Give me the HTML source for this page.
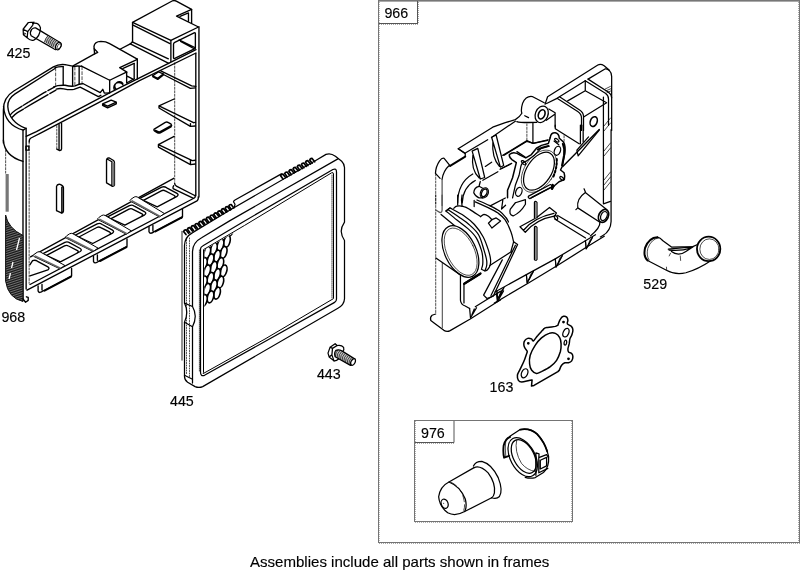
<!DOCTYPE html>
<html><head><meta charset="utf-8"><title>Parts diagram</title>
<style>
html,body{margin:0;padding:0;background:#fff;}
body{width:800px;height:573px;overflow:hidden;position:relative;font-family:"Liberation Sans",sans-serif;}
svg{position:absolute;left:0;top:0;display:block;}
.l{fill:none;stroke:#000;stroke-width:1.25;stroke-linejoin:round;stroke-linecap:round;}
.t{fill:none;stroke:#000;stroke-width:0.7;stroke-linejoin:round;stroke-linecap:round;}
.k{fill:none;stroke:#000;stroke-width:1.4;stroke-linejoin:round;stroke-linecap:round;}
.w{fill:#fff;stroke:#000;stroke-width:1;stroke-linejoin:round;stroke-linecap:round;}
.f{fill:none;stroke:#777;stroke-width:1;shape-rendering:crispEdges;}
path,line,ellipse,circle,polyline,polygon,rect{vector-effect:non-scaling-stroke;}
svg{filter:grayscale(1);}
.heavy .l{stroke-width:1.35;}
text{font-family:"Liberation Sans",sans-serif;font-size:15px;fill:#000;stroke:#000;stroke-width:0.15px;}
</style></head><body>
<svg width="800" height="573" viewBox="0 0 800 573">
<g id="frames">
<g shape-rendering="crispEdges" fill="none" stroke="#747474" stroke-width="1">
<path d="M378,0.5 H800" stroke="#777"/>
<path d="M378,1.5 H800" stroke="#aaa"/>
<path d="M378.5,1 V543 M799.5,1 V543 M378,542.5 H800"/>
<path d="M798.5,2 V542 M379,543.5 H800" stroke="#a8a8a8" stroke-dasharray="1 1"/>
<path d="M379.5,2 V542" stroke="#bbb" stroke-dasharray="1 1"/>
<path d="M417.5,1 V23.5 M379,23.5 H418" stroke="#555"/>
<path d="M379,24.5 H418 M418.5,2 V23" stroke="#aaa" stroke-dasharray="1 1"/>
<path d="M414.5,420 V522 M572.5,420 V522 M414,420.5 H573 M414,521.5 H573"/>
<path d="M415,522.5 H573 M571.5,421 V521 M415.5,421 V521" stroke="#b0b0b0" stroke-dasharray="1 1"/>
<path d="M454,421 V442.5 M415,442.5 H454" stroke="#555" shape-rendering="auto"/>
<path d="M415,443.5 H454" stroke="#aaa" stroke-dasharray="1 1"/>
</g>
</g>
<g id="p968" class="heavy">
<g class="l" transform="translate(120,0) scale(0.12563)">
<!-- tile A: top boss -->
<path d="M100,178 L415,8 Q432,0 448,9 L570,75 L450,128 L625,215 L405,322 Z"/>
<path d="M100,198 L398,347"/>
<path d="M570,75 V185 M545,103 V170 M478,131 L545,103"/>
<path d="M100,178 V334 L82,349 L388,505"/>
<path d="M97,333 L385,468"/>
<path d="M405,322 V490"/>
<path d="M426,352 Q426,342 436,337 L590,262 Q600,258 600,268 V385 L436,465 Q426,469 426,459 Z"/>
<path d="M470,318 L600,380 M482,330 L590,388"/>
<path d="M82,349 L0,392"/>
</g>
<g class="l" transform="translate(50,30) scale(0.12563)">
<!-- tile B: left boss -->
<path d="M120,276 L180,288 L355,190 L350,130 Q355,92 405,90 Q445,90 475,108 L695,232"/>
<path d="M352,150 L380,178 L355,190"/>
<path d="M250,287 L475,400 L600,340 M555,300 L695,233 M555,300 L612,335 M582,306 L670,266"/>
<path d="M475,400 V500 M695,232 V390 M670,266 V382 M610,335 V422 M610,365 L668,395 M610,422 L672,386"/>
<path d="M512,475 A36,36 0 1 1 583,440 M525,470 A30,30 0 0 1 580,425"/>
<path d="M105,292 V440 M180,292 V445 M232,290 V432"/>
<path class="t" d="M45,302 V440 M198,295 V440 M255,292 V425" stroke-dasharray="3 2"/>
<path d="M40,300 Q70,290 105,292 M180,292 Q215,282 255,290"/>
<path d="M30,452 Q60,438 120,440 Q170,452 200,445 Q240,425 265,428 L400,498 L420,472 L432,502 L475,500"/>
<path d="M50,470 Q75,462 110,468 Q160,480 190,472 L240,455 L385,530 L405,520"/>
</g>
<g class="l" transform="translate(0,60) scale(0.12563)">
<!-- tile C: left curve -->
<path d="M27,660 V400 Q24,300 110,247 L425,55 Q470,30 518,37"/>
<path d="M28,370 Q40,520 185,558 L205,545"/>
<path d="M438,68 L120,270 Q60,310 62,370 Q70,490 205,545"/>
<path d="M84,435 Q100,415 125,398 L348,262 L436,214 M97,456 Q115,435 139,419 L279,335 L445,240" stroke-dasharray="14 1.5 6 1 20 2"/>
</g>
<g class="l">
<!-- long lines (real coords) -->
<path d="M26.1,136.3 L36.4,131.6 L110,92.7 L196,49.6 M29.2,142 Q29,139 31,138 L41.5,132.6 L110,96.6 L139,80.8 L196,53"/>
</g>
<g class="l" transform="translate(110,50) scale(0.12563)">
<!-- tile D -->
<path d="M708,-185 V1170 M683,28 V1160"/>
<path class="t" d="M515,102 V1050" stroke-dasharray="2 1.5"/>
<path d="M400,165 L650,285 L683,290 M425,195 L640,306 L680,302"/>
<path d="M510,390 L390,445 L665,578 M390,445 V462 L640,608"/>
<path d="M340,205 L385,175 L425,190 L380,225 Z M340,205 V212 L380,234 L425,198 V190"/>

</g>
<g class="l" transform="translate(0,120) scale(0.12563)">
<!-- tile E -->
<path d="M27,160 Q35,285 183,330"/>
<path d="M183,78 V1435 M208,66 V1345"/>
<path class="t" d="M232,175 V1300 M45,240 V430" stroke-dasharray="2 1.5"/>
<rect x="206" y="208" width="24" height="32"/>
<path d="M490,25 V230 Q488,245 472,243 L452,232 M470,35 V240"/>
<path class="t" d="M452,45 V232" stroke-dasharray="2 1.5"/>
<path d="M450,722 V528 Q455,508 478,512 Q505,522 505,540 V725 Q503,738 492,742 L450,722 M492,742 V535"/>
<path d="M57,430 V730" stroke="#777" stroke-width="3.2" stroke-linecap="butt"/>
</g>
<g class="l" transform="translate(100,110) scale(0.12563)">
<!-- tile F -->
<path d="M745,100 L760,99 M720,108 V130 L758,127"/>
<path d="M590,210 L465,275 L735,403 L760,400 M465,275 V295 L720,435 L758,430 M720,400 V435"/>
<path d="M432,152 L520,98 Q532,92 545,100 L566,113 Q576,124 565,135 L480,182 Q468,187 455,180 L436,169 Q424,160 432,152 Z M442,162 L472,176 L566,124"/>
<path d="M52,580 V398 Q58,376 78,384 L108,402 Q115,408 115,420 V598 Q112,608 100,608 L52,580 M60,392 L95,412 V606"/>
<path d="M105,420 V600" stroke="#777" stroke-width="2.4" stroke-linecap="butt"/>
</g>
<g class="l">
<path d="M102.6,103.9 L111.2,100.1 L116.3,102.2 L107.6,106.2 Z M102.6,103.9 V105.4 L107.6,107.9 L116.3,103.8 V102.2"/>
</g>
</g>
<g id="p968b" class="heavy">
<g class="l">
<!-- floor / rail (real coords) -->
<path d="M173.7,178.3 L30.5,256.9"/>
<path d="M174.6,183.1 Q174.6,185.3 176.4,186.2 L194.7,195.5 M173.7,185.7 Q172.6,187.3 173.1,188.6 L193.5,198.4"/>
<path d="M195.2,195.1 Q195.5,197.4 194.3,198.0 L30,284.5 M198.2,196.9 Q198.7,199.6 197.0,200.9 L27,290.2"/>
<path d="M139.4,198.7 L161.7,187.2 Q164.2,186.0 166.7,187.8 L177.0,193.4 Q179.2,194.8 177.0,196.4 L157.2,206.8 L141.2,199.4"/>
<path d="M143.4,200.3 L161.3,190.8 Q163.3,189.7 165.3,190.9 L174.3,195.5 Q175.9,196.5 174.3,197.5"/>
<path class="w" d="M134.5,196.9 Q136.0,196.2 137.3,197.0 L164.4,213.5 L159.5,216.9 L130.7,201.4 Q129.1,200.4 130.7,199.4 Z"/>
<path d="M132.1,200.1 L160.9,215.9 L159.5,216.9 L130.7,201.2 Z" fill="#666" stroke="none"/>
<path d="M107.1,217.1 L129.4,205.6 Q131.9,204.4 134.4,206.2 L144.7,211.8 Q146.9,213.2 144.7,214.8 L124.9,225.2 L108.9,217.8"/>
<path d="M111.1,218.7 L129.0,209.2 Q131.0,208.1 133.0,209.3 L142.0,213.9 Q143.6,214.9 142.0,215.9"/>
<path class="w" d="M102.2,215.3 Q103.7,214.6 105.0,215.4 L131.2,230.8 L126.3,234.2 L98.4,219.8 Q96.8,218.8 98.4,217.8 Z"/>
<path d="M99.8,218.5 L127.7,233.2 L126.3,234.2 L98.4,219.6 Z" fill="#666" stroke="none"/>
<path d="M74.9,235.4 L97.2,223.9 Q99.7,222.7 102.2,224.5 L112.5,230.1 Q114.7,231.5 112.5,233.1 L92.7,243.5 L76.7,236.1"/>
<path d="M78.9,237.0 L96.8,227.5 Q98.8,226.4 100.8,227.6 L109.8,232.2 Q111.4,233.2 109.8,234.2"/>
<path class="w" d="M70.0,233.6 Q71.5,232.9 72.8,233.7 L98.0,248.1 L93.1,251.5 L66.2,238.1 Q64.6,237.1 66.2,236.1 Z"/>
<path d="M67.6,236.8 L94.5,250.5 L93.1,251.5 L66.2,237.9 Z" fill="#666" stroke="none"/>
<path d="M42.6,253.8 L64.9,242.3 Q67.4,241.1 69.9,242.9 L80.2,248.5 Q82.4,249.9 80.2,251.5 L60.4,261.9 L44.4,254.5"/>
<path d="M46.6,255.4 L64.5,245.9 Q66.5,244.8 68.5,246.0 L77.5,250.6 Q79.1,251.6 77.5,252.6"/>
<path class="w" d="M37.7,252.0 Q39.2,251.3 40.5,252.1 L64.8,265.4 L59.9,268.8 L33.9,256.5 Q32.3,255.5 33.9,254.5 Z"/>
<path d="M35.3,255.2 L61.3,267.8 L59.9,268.8 L33.9,256.3 Z" fill="#666" stroke="none"/>
<path d="M30,264.7 L32.6,260.7 Q35.1,259.5 37.6,261.3 L47.9,266.9 Q50.1,268.3 47.9,269.9 L30,275.9"/>
<path d="M182.5,209.3 v7.4 l-28.3,14.9 q-4,3.2 -5.2,0.2 v-5 M152.9,225.3 v5.4"/>
<path style="stroke-width:1.8" class="k" d="M155.5,231.5 l26.5,-14"/>
<path d="M127.0,238.9 v7.4 l-28.3,14.9 q-4,3.2 -5.2,0.2 v-5 M97.4,254.9 v5.4"/>
<path style="stroke-width:1.8" class="k" d="M100.0,261.1 l26.5,-14"/>
<path d="M71.6,268.5 v7.4 l-28.3,14.9 q-4,3.2 -5.2,0.2 v-5 M42.0,284.5 v5.4"/>
<path style="stroke-width:1.8" class="k" d="M44.6,290.7 l26.5,-14"/>
</g>
<g>
<pattern id="ht" width="6" height="1.7" patternUnits="userSpaceOnUse" patternTransform="rotate(14)"><rect width="6" height="1.7" fill="#8a8a8a"/><rect width="6" height="1.05" fill="#111"/></pattern>
<path d="M5.6,215 Q8,228 23,235.5 V301.5 Q8,298 5.6,281 Z" fill="url(#ht)" stroke="#111" stroke-width="1"/>
<path d="M23,299 l2.6,3.2 l2.6,-1.8 v-3 l-1.8,-0.6" class="l"/>
<path d="M19.5,238 L16.5,250 M13,262 L11.5,268 M10.5,273 L9,279" stroke="#fff" stroke-width="1.3" fill="none"/>
</g>
</g>
<g id="p425">
<g class="l" transform="translate(15,15) scale(0.075)">
<path d="M108,190 L178,100 L252,96 M108,190 L112,262 L162,302 M108,190 L170,222 L235,138 L252,96 M170,222 L162,302"/>
<circle cx="128" cy="250" r="9" class="t"/>
<path d="M235,112 Q318,95 340,172 Q335,290 250,335 Q205,348 165,305"/>
<path d="M215,277 Q192,235 222,192 Q248,165 275,172 L600,368 M215,277 L540,462"/>
<path d="M432,276 L590,368 L538,458 L388,352 Z" fill="#bbb" stroke="none"/>
<path class="t" d="M436,280 q-32,28 -42,78"/>
<path class="t" d="M458,293 q-32,28 -42,78"/>
<path class="t" d="M481,307 q-32,28 -42,78"/>
<path class="t" d="M503,320 q-32,28 -42,78"/>
<path class="t" d="M525,334 q-32,28 -42,78"/>
<path class="t" d="M547,347 q-32,28 -42,78"/>
<ellipse cx="578" cy="414" rx="33" ry="52" transform="rotate(28 578 414)" fill="#fff"/>
<ellipse cx="590" cy="418" rx="22" ry="38" transform="rotate(28 590 418)" class="t"/>
</g>
</g>
<g id="p445">
<g class="l">
<path d="M184.5,376.5 V322.3 Q189,312.5 184.5,303.1 V245.3 Q184.8,237 192.6,232.6 L230,210 L315.3,160.7 L326,154.4 Q330.6,152.6 335.4,156.3 L341.7,161.3 Q344.4,164 344.5,167.6 V222.1 Q341.2,227 341.2,231.3 Q341.4,236 344.5,240.5 V298.8 Q344.2,305 337.9,308.2 L202.7,386.6 Q199,388.2 195.1,386.6 L187.6,382.2 Q184.5,380 184.5,376.5 Z" fill="#fff"/>
<path d="M192.5,383 V326.7 Q198,316 192.5,306.5 V251.5 Q192.6,242.5 202,237.5 L230,220.6 L337.9,158.9"/>
<path d="M184.5,303.1 L192.5,306.5 M184.5,322.3 L192.5,326.7"/>
<path d="M184.5,375.3 L192.5,379.2"/>
<path d="M200.5,372 V249 Q200.5,247 203,245.8 L241.25,223 L332.9,169.5 Q336.5,167.8 336.5,172 V299 Q336.5,301.3 334.6,302.4 L265,341.5 L204.5,375.3 Q200.5,377 200.5,372 Z"/>
<path stroke-width="1" d="M203.5,372 V249.6 L244.6,225.4 L331.6,172.8 Q333.5,172 333.5,174 V298.6 L265,339 L203.5,373.4 Z"/>
<path class="t" d="M199.4,250 V372 M332,175 V298" stroke-dasharray="1 1"/>
<path d="M182,231.6 V360" stroke="#777" stroke-width="1.6"/>
<path d="M186.5,240 V375 M189.5,238 V377" class="t" stroke="#555" stroke-dasharray="1 1.5"/>
<path d="M234.4,206.8 L235,204.3 L233.5,201.8 Q233.6,200.8 235,200 L281.4,173.9"/>
<path d="M186.0,234.6 l-2.4,-3.2 q0.6,-1.8 2.4,-1.6 l2.6,3.4" stroke-width="1.7"/>
<path d="M189.8,232.5 l-2.4,-3.2 q0.6,-1.8 2.4,-1.6 l2.6,3.4" stroke-width="1.7"/>
<path d="M193.5,230.4 l-2.4,-3.2 q0.6,-1.8 2.4,-1.6 l2.6,3.4" stroke-width="1.7"/>
<path d="M197.3,228.3 l-2.4,-3.2 q0.6,-1.8 2.4,-1.6 l2.6,3.4" stroke-width="1.7"/>
<path d="M201.1,226.2 l-2.4,-3.2 q0.6,-1.8 2.4,-1.6 l2.6,3.4" stroke-width="1.7"/>
<path d="M204.8,224.1 l-2.4,-3.2 q0.6,-1.8 2.4,-1.6 l2.6,3.4" stroke-width="1.7"/>
<path d="M208.6,222.0 l-2.4,-3.2 q0.6,-1.8 2.4,-1.6 l2.6,3.4" stroke-width="1.7"/>
<path d="M212.4,219.8 l-2.4,-3.2 q0.6,-1.8 2.4,-1.6 l2.6,3.4" stroke-width="1.7"/>
<path d="M216.2,217.7 l-2.4,-3.2 q0.6,-1.8 2.4,-1.6 l2.6,3.4" stroke-width="1.7"/>
<path d="M219.9,215.6 l-2.4,-3.2 q0.6,-1.8 2.4,-1.6 l2.6,3.4" stroke-width="1.7"/>
<path d="M223.7,213.5 l-2.4,-3.2 q0.6,-1.8 2.4,-1.6 l2.6,3.4" stroke-width="1.7"/>
<path d="M227.5,211.4 l-2.4,-3.2 q0.6,-1.8 2.4,-1.6 l2.6,3.4" stroke-width="1.7"/>
<path d="M231.2,209.3 l-2.4,-3.2 q0.6,-1.8 2.4,-1.6 l2.6,3.4" stroke-width="1.7"/>
<path d="M283.0,179.0 l-2.4,-3.2 q0.6,-1.8 2.4,-1.6 l2.6,3.4" stroke-width="1.7"/>
<path d="M287.1,176.8 l-2.4,-3.2 q0.6,-1.8 2.4,-1.6 l2.6,3.4" stroke-width="1.7"/>
<path d="M291.3,174.5 l-2.4,-3.2 q0.6,-1.8 2.4,-1.6 l2.6,3.4" stroke-width="1.7"/>
<path d="M295.4,172.2 l-2.4,-3.2 q0.6,-1.8 2.4,-1.6 l2.6,3.4" stroke-width="1.7"/>
<path d="M299.6,170.0 l-2.4,-3.2 q0.6,-1.8 2.4,-1.6 l2.6,3.4" stroke-width="1.7"/>
<path d="M303.8,167.8 l-2.4,-3.2 q0.6,-1.8 2.4,-1.6 l2.6,3.4" stroke-width="1.7"/>
<path d="M307.9,165.5 l-2.4,-3.2 q0.6,-1.8 2.4,-1.6 l2.6,3.4" stroke-width="1.7"/>
<path d="M312.1,163.2 l-2.4,-3.2 q0.6,-1.8 2.4,-1.6 l2.6,3.4" stroke-width="1.7"/>
</g>
<clipPath id="hc"><path d="M204.4,250 L236,231.5 V310 H204.4 Z"/></clipPath>
<g clip-path="url(#hc)" fill="#fff" stroke="#000" stroke-width="1.6">
<ellipse cx="230.3" cy="230.3" rx="3.0" ry="6.1" transform="rotate(16 230.3 230.3)"/>
<ellipse cx="223.7" cy="234.0" rx="3.0" ry="6.1" transform="rotate(16 223.7 234.0)"/>
<ellipse cx="217.1" cy="237.7" rx="3.0" ry="6.1" transform="rotate(16 217.1 237.7)"/>
<ellipse cx="210.5" cy="241.4" rx="3.0" ry="6.1" transform="rotate(16 210.5 241.4)"/>
<ellipse cx="227.0" cy="241.4" rx="3.0" ry="6.1" transform="rotate(16 227.0 241.4)"/>
<ellipse cx="203.9" cy="245.1" rx="3.0" ry="6.1" transform="rotate(16 203.9 245.1)"/>
<ellipse cx="220.4" cy="245.1" rx="3.0" ry="6.1" transform="rotate(16 220.4 245.1)"/>
<ellipse cx="213.8" cy="248.8" rx="3.0" ry="6.1" transform="rotate(16 213.8 248.8)"/>
<ellipse cx="207.2" cy="252.5" rx="3.0" ry="6.1" transform="rotate(16 207.2 252.5)"/>
<ellipse cx="223.7" cy="252.5" rx="3.0" ry="6.1" transform="rotate(16 223.7 252.5)"/>
<ellipse cx="217.1" cy="256.2" rx="3.0" ry="6.1" transform="rotate(16 217.1 256.2)"/>
<ellipse cx="210.5" cy="259.9" rx="3.0" ry="6.1" transform="rotate(16 210.5 259.9)"/>
<ellipse cx="203.9" cy="263.6" rx="3.0" ry="6.1" transform="rotate(16 203.9 263.6)"/>
<ellipse cx="220.4" cy="263.6" rx="3.0" ry="6.1" transform="rotate(16 220.4 263.6)"/>
<ellipse cx="213.8" cy="267.3" rx="3.0" ry="6.1" transform="rotate(16 213.8 267.3)"/>
<ellipse cx="207.2" cy="271.0" rx="3.0" ry="6.1" transform="rotate(16 207.2 271.0)"/>
<ellipse cx="223.7" cy="271.0" rx="3.0" ry="6.1" transform="rotate(16 223.7 271.0)"/>
<ellipse cx="217.1" cy="274.7" rx="3.0" ry="6.1" transform="rotate(16 217.1 274.7)"/>
<ellipse cx="210.5" cy="278.4" rx="3.0" ry="6.1" transform="rotate(16 210.5 278.4)"/>
<ellipse cx="203.9" cy="282.1" rx="3.0" ry="6.1" transform="rotate(16 203.9 282.1)"/>
<ellipse cx="220.4" cy="282.1" rx="3.0" ry="6.1" transform="rotate(16 220.4 282.1)"/>
<ellipse cx="213.8" cy="285.8" rx="3.0" ry="6.1" transform="rotate(16 213.8 285.8)"/>
<ellipse cx="207.2" cy="289.5" rx="3.0" ry="6.1" transform="rotate(16 207.2 289.5)"/>
<ellipse cx="217.1" cy="293.2" rx="3.0" ry="6.1" transform="rotate(16 217.1 293.2)"/>
<ellipse cx="210.5" cy="296.9" rx="3.0" ry="6.1" transform="rotate(16 210.5 296.9)"/>
<ellipse cx="203.9" cy="300.6" rx="3.0" ry="6.1" transform="rotate(16 203.9 300.6)"/>
</g>
</g>
<g id="p443">
<g class="l" transform="translate(310,335) scale(0.075)">
<path d="M240,242 L268,162 L335,116 L362,140 M240,242 L255,292 L320,345 M268,162 L300,178 L362,140 M300,178 L292,265 L255,292 M292,265 L320,345"/>
<path d="M362,140 Q420,128 448,165 Q458,200 440,215 M320,345 Q350,350 380,320"/>
<path d="M345,205 Q318,235 335,290 L540,405 L600,322 L430,215 Q380,185 345,205 Z" fill="#c4c4c4"/>
<path class="t" d="M372,200 q-34,30 -34,88"/>
<path class="t" d="M394,213 q-34,30 -34,88"/>
<path class="t" d="M417,226 q-34,30 -34,88"/>
<path class="t" d="M439,239 q-34,30 -34,88"/>
<path class="t" d="M461,252 q-34,30 -34,88"/>
<path class="t" d="M484,265 q-34,30 -34,88"/>
<path class="t" d="M506,278 q-34,30 -34,88"/>
<path class="t" d="M529,291 q-34,30 -34,88"/>
<path class="t" d="M551,304 q-34,30 -34,88"/>
<ellipse cx="574" cy="360" rx="27" ry="47" transform="rotate(28 574 360)" fill="#fff"/>
</g>
</g>
<g id="p966">
<g class="l" transform="translate(530,55) scale(0.12563)">
<!-- P1 -->
<path d="M120,392 L140,332 L540,80 Q562,68 590,85 L630,120 Q650,140 650,172 V600"/>
<path d="M132,386 L215,345 L440,205 M462,192 L600,110 Q618,108 632,124"/>
<path d="M215,345 L380,450 Q410,470 410,502 V600 M235,333 L395,438 Q426,458 426,490 V600"/>
<path d="M440,205 V282 M300,365 L440,285 L610,380 L430,492"/>
<path d="M440,205 L600,305 Q625,322 625,350 V560 M462,192 L622,295 Q648,312 650,340"/>
<path d="M600,270 L640,250 M605,285 L645,268 M612,300 L645,285" class="t"/>
<ellipse cx="507" cy="530" rx="27" ry="40" transform="rotate(20 507 530)" stroke-width="1.6"/>
<ellipse cx="93" cy="472" rx="50" ry="68" transform="rotate(22 93 472)"/>
<ellipse cx="93" cy="472" rx="25" ry="38" transform="rotate(22 93 472)" stroke-width="1.6"/>
<path d="M150,430 L200,460 V573 M130,520 L200,470"/>
</g>
<g class="l" transform="translate(450,90) scale(0.12563)">
<!-- P2 -->
<path d="M750,102 L655,52 Q605,45 578,105 Q562,160 572,185 Q555,215 520,236 L440,260 L340,296 L65,468 L120,506"/>
<path class="k" d="M532,252 Q560,262 690,258"/>
<path d="M125,500 L300,396 M330,378 L520,248 M595,205 L625,220"/>
<path d="M660,262 V425 L780,396 M612,402 L660,425 M420,520 L610,405"/>
<path class="t" d="M612,270 V402" stroke-dasharray="2 1.5"/>
</g>
<g class="l" transform="translate(500,125) scale(0.12563)">
<!-- P3 carb flange -->
<path stroke-width="1.5" d="M400,100 Q405,60 440,62 Q470,70 472,105 L505,135 Q525,170 515,230 L495,330 L482,358 L510,380 Q520,410 512,435 L470,452 L435,482 L250,578"/>
<path stroke-width="1.5" d="M400,100 L385,148 L330,162 L290,185 L250,235 L205,262 L160,240 Q110,205 75,235 Q70,255 95,275 L130,300 Q120,340 100,420 L60,520 V580"/>
<path d="M392,168 L325,188 L275,240 L205,290 Q172,300 166,330 L152,400 L122,480 L100,580 M430,128 L468,158"/>
<path style="stroke-width:2" class="k" d="M500,150 Q518,190 510,240 L494,322"/>
<path style="stroke-width:1.8" class="k" d="M300,196 L335,180 L385,166"/>
<ellipse cx="310" cy="368" rx="98" ry="168" transform="rotate(33 310 368)"/>
<ellipse cx="310" cy="368" rx="116" ry="186" transform="rotate(33 310 368)" class="t"/>
<ellipse cx="457" cy="205" rx="24" ry="37" transform="rotate(20 457 205)"/>
<ellipse cx="150" cy="532" rx="24" ry="37" transform="rotate(20 150 532)"/>
<ellipse cx="452" cy="122" rx="10" ry="20" transform="rotate(-50 452 122)"/>
<ellipse cx="188" cy="300" rx="10" ry="22" transform="rotate(-45 188 300)"/>
<ellipse cx="492" cy="425" rx="10" ry="19" transform="rotate(-45 492 425)"/>
<path style="stroke-width:2" class="t" d="M452,270 Q455,340 425,410" stroke-dasharray="2 2"/>
<path style="stroke-width:2.2" class="k" d="M415,505 L428,485"/>
<path d="M30,242 L215,130 L265,146 L380,122 M135,212 L200,255 M0,352 L80,312"/>
<path d="M440,0 V30 L630,150 M640,0 V150 M662,0 V135"/>
<path class="t" d="M510,85 V135" stroke-dasharray="2 1.5"/>
<path class="k" d="M790,36 L500,330"/>
<path d="M790,40 L622,246 L612,200 L705,95"/>
</g>
<g class="l" transform="translate(420,130) scale(0.12563)">
<!-- P4 top-left -->
<path d="M360,210 V186 L305,150"/>
<path d="M360,212 L240,286" stroke="#000" stroke-width="2" fill="none"/>
<path d="M240,286 L192,226 Q176,220 156,245 Q125,290 123,345 L160,385 M232,282 Q185,325 176,392"/>
<path class="t" d="M125,350 V600" stroke-dasharray="2 1.5"/>
<path d="M176,392 V600" stroke="#555"/>
<path d="M415,168 L480,390 L515,378 L460,146 Z M421,200 Q405,320 470,380"/>
<path d="M570,58 L640,296 L666,282 L606,40 Z M580,92 Q570,220 632,290"/>
<path d="M520,290 L570,256 M642,310 L730,266 M500,400 L620,332"/>
<path d="M300,580 Q300,420 420,350 M336,580 Q342,455 440,402"/>
<ellipse cx="512" cy="500" rx="30" ry="42" transform="rotate(25 512 500)"/>
<ellipse cx="512" cy="500" rx="20" ry="32" transform="rotate(25 512 500)"/>
<path d="M496,462 L470,448 Q430,455 428,500 Q440,530 470,540 L498,540 M470,448 L480,410"/>
</g>
<g class="l" transform="translate(420,195) scale(0.12563)">
<!-- P5 misc -->
<path class="t" d="M125,0 V945" stroke-dasharray="2 1.5"/>
<path d="M176,0 V120 Q176,140 160,140 L125,120" stroke="#555"/>
<path d="M300,0 V80 M335,0 Q325,40 335,90"/>
</g>
<g class="l" transform="translate(420,260) scale(0.12563)">
<!-- P6 bottom-left -->
<path d="M125,430 L96,440 Q78,455 86,482 L112,502 L190,560 Q215,575 240,562 L400,470 L610,336 L640,318"/>
<path d="M178,20 V540" stroke="#666"/>
<path d="M322,125 V320 Q325,355 360,366 L395,386 M350,195 V342"/>
<path d="M352,190 L480,110" stroke-width="2.2"/>
<path d="M440,372 L520,322 L640,250"/>
<path d="M395,386 L402,462 L450,380 M412,440 L432,390 M610,272 L616,332 L665,246 M628,310 L648,262"/>
</g>
<g class="l" transform="translate(520,180) scale(0.12563)">
<!-- P7 right-middle -->
<path d="M725,-400 V330 Q722,405 660,442 L640,454"/>
<path d="M664,-660 V190 L720,170"/>
<path d="M520,100 L692,236 M460,222 L636,336 M520,100 Q448,150 460,222 M510,70 L522,100 M445,236 L460,222"/>
<ellipse cx="665" cy="286" rx="38" ry="54" transform="rotate(25 665 286)" stroke-width="1.7"/>
<ellipse cx="668" cy="287" rx="24" ry="38" transform="rotate(25 668 287)"/>
<path d="M0,372 L130,300 L235,218 L290,262 L272,294 M0,372 L42,416 Q130,312 280,286 M28,400 Q110,300 270,266"/>
<path d="M300,282 L552,432 M276,310 L522,462"/>
<ellipse cx="287" cy="299" rx="11" ry="18" transform="rotate(-30 287 299)"/>
<path d="M115,300 V178 Q120,162 135,178 V300 M115,632 V378 Q120,362 135,378 V632 Q125,648 115,632"/>
<path d="M125,180 V300 M125,380 V635" stroke="#888" stroke-width="1.4"/>

<path d="M68,128 Q60,140 78,148 L250,56 Q262,44 242,36 Z"/>
<path d="M260,40 L255,70" stroke-width="2.4"/>
<path d="M636,336 Q640,380 560,445"/>
</g>
<g class="l" transform="translate(500,230) scale(0.12563)">
<!-- P8 bottom edge -->
<path d="M-40,493 L210,355 L440,230 L680,85 L760,38 M-45,582 L230,420 L460,280 L700,130 L830,50"/>
<path d="M210,355 l6,66 l50,-92 M224,407 l22,-58 M234,395 l20,-52" class="t"/>
<path d="M210,355 l6,66 l50,-92"/>
<path d="M440,230 l6,66 l50,-92 M454,282 l22,-58 M464,270 l20,-52" class="t"/>
<path d="M440,230 l6,66 l50,-92"/>
<path d="M680,85 l6,66 l50,-92 M694,137 l22,-58 M704,125 l20,-52" class="t"/>
<path d="M680,85 l6,66 l50,-92"/>
<path d="M-25,485 l6,66 l50,-92 M-11,537 l22,-58 M-1,525 l20,-52" class="t"/>
<path d="M-25,485 l6,66 l50,-92"/>
</g>
<g class="l">
<path class="t" d="M604,151 L610.5,143 M604,156 L610.5,148 M604,180 L610.5,172 M604,185 L610.5,177 M604,190 L610.5,182 M604,126 L610.5,118 M604,131 L610.5,123"/>
</g>
<g class="l" transform="translate(440,150) scale(0.12563)">
<path d="M272,400 V450 M400,445 L520,382 M500,400 L490,470 L522,440"/>
<path d="M600,420 L680,395 V432 Q640,500 582,525 Q545,512 560,470 L600,420"/>
</g>
</g>
<g id="p966b">
<g class="l">
<path d="M453.8,208.3 C454.3,207.9 455.2,206.4 456.9,206.1 C458.6,205.8 461.7,206.0 463.9,206.6 C466.1,207.1 467.2,207.9 470.0,209.6 C472.8,211.3 478.8,215.5 480.5,216.6"/>
<path d="M475.2,201.9 C477.3,202.8 483.7,205.6 487.5,207.4 C491.3,209.3 495.1,211.1 498.0,213.1 C500.9,215.2 502.8,216.5 505.0,219.7 C507.2,222.8 509.6,228.3 511.0,232.0 C512.4,235.7 513.2,240.2 513.6,241.8"/>
<path d="M477.0,200.0 C479.0,200.9 485.5,203.6 489.2,205.4 C493.0,207.3 497.0,209.2 499.8,211.2 C502.5,213.2 504.4,215.7 505.9,217.5 C507.3,219.3 508.1,221.2 508.5,222.0"/>
<path d="M480.5,216.6 C481.1,216.3 482.7,214.5 484.0,214.4 C485.3,214.4 487.1,215.3 488.4,216.2 C489.7,217.1 491.3,219.1 491.9,219.7"/>
<path d="M491.9,219.7 L496.2,217.9 L500.6,221.0 L491.9,228.0 L488.4,223.2 L491.9,219.7"/>
<path d="M449.9,207.9 C452.2,209.2 459.8,212.9 463.9,215.7 C468.0,218.5 471.2,221.0 474.4,224.5 C477.6,228.0 480.8,232.4 483.1,236.7 C485.4,241.0 487.2,246.4 488.4,250.1 C489.6,253.8 490.2,256.4 490.5,259.0 C490.8,261.6 490.6,263.6 490.1,265.4 C489.6,267.2 488.4,268.8 487.5,269.7 C486.6,270.6 485.3,270.8 484.9,271.0 L481.4,269.3 L481.4,269.3 C481.6,268.5 482.5,266.5 482.7,264.5 C482.9,262.5 482.9,259.9 482.7,257.5 C482.5,255.1 482.5,253.4 481.4,250.1 C480.3,246.8 478.3,241.1 476.1,237.6 C473.9,234.1 471.4,231.8 468.2,228.9 C465.0,226.0 460.6,223.1 456.9,220.1 C453.2,217.1 447.7,212.4 445.9,210.9 Z" fill="#fff"/>
<path d="M447.7,209.6 C449.7,210.9 455.8,214.9 459.5,217.5 C463.2,220.1 466.8,222.5 470.0,225.4 C473.2,228.3 476.4,230.9 478.7,235.0 C481.0,239.1 482.7,245.9 484.0,250.1 C485.3,254.3 486.2,257.4 486.6,260.0 C487.0,262.6 486.9,264.2 486.6,266.0 C486.3,267.8 485.2,269.8 484.9,270.6"/>
<path d="M441.1,214.4 L454.7,225.8 M445.9,210.9 L449.9,207.9"/>
<ellipse cx="460.4" cy="251.5" rx="15.6" ry="27.6" transform="rotate(-25.7 460.4 251.5)" fill="#fff"/>
<ellipse cx="460.7" cy="251.7" rx="13.6" ry="25.4" transform="rotate(-25.7 460.7 251.7)" class="t"/>
<path d="M435.9,258 L460.4,275"/>
<path d="M464.2,283.6 L480.5,273.4" stroke-width="2.2"/>
<path d="M489.8,265.6 L510.8,252 L513.6,241.8 L517.6,244.6 L493.2,296.2 L487,298.5 L483.6,295.1 L502.3,259.9 M515.4,245.2 L491,295.5"/>
</g>
</g>
<g id="p529">
<g class="l" transform="translate(630,220) scale(0.12563)">
<ellipse cx="626" cy="230" rx="93" ry="97" stroke-width="1.8"/>
<ellipse cx="632" cy="232" rx="76" ry="82" class="t"/>
<path d="M218,137 Q150,140 120,222 Q104,292 140,322" stroke-width="2"/>
<path d="M230,142 Q170,150 142,225 Q128,285 152,318" class="t"/>
<path d="M218,137 Q240,140 262,165 L330,215 L500,212 L538,195"/>
<path d="M140,322 L290,400 Q360,440 445,420 Q545,390 640,326"/>
<path d="M305,232 L495,214 M312,240 Q400,250 490,222 M330,250 Q385,292 445,250 L500,214"/>
<path d="M322,265 L312,286 M400,286 L403,322 M290,375 L292,396" class="t"/>
</g>
</g>
<g id="p163">
<g class="l">
<path d="M557.9,325.1 C558.3,324.1 559.4,320.5 560.4,319.1 C561.3,317.6 562.5,316.6 563.5,316.3 C564.6,316.0 565.9,316.4 566.7,317.1 C567.4,317.7 567.8,319.2 567.9,320.3 C568.0,321.5 566.8,322.8 567.4,323.8 C568.0,324.8 570.5,325.3 571.4,326.4 C572.4,327.4 572.9,328.7 572.9,330.1 C573.0,331.6 572.2,333.7 571.7,335.2 C571.2,336.6 570.3,337.5 569.9,338.9 C569.5,340.4 569.5,342.3 569.2,343.9 C568.8,345.6 568.0,347.6 567.9,349.0 C567.8,350.3 568.0,351.4 568.7,352.1 C569.3,352.9 571.0,352.7 571.7,353.5 C572.4,354.3 572.9,355.5 572.9,356.8 C572.9,358.0 572.4,359.9 571.7,360.9 C571.0,361.9 569.7,362.5 568.5,362.8 C567.4,363.1 566.1,362.4 564.9,362.8 C563.7,363.2 562.6,364.1 561.6,365.3 C560.7,366.5 559.7,369.3 559.4,370.1 L557.9,371.6 L534.0,385.4 L531.5,386.0 L532.1,379.9 L532.1,379.9 C531.6,380.0 530.7,380.0 529.0,380.4 C527.2,380.8 523.4,382.1 521.7,382.1 C519.9,382.1 519.1,381.5 518.4,380.4 C517.7,379.2 517.2,377.1 517.4,375.4 C517.6,373.6 518.6,372.4 519.7,370.1 C520.8,367.7 522.8,364.0 523.9,361.3 C525.1,358.6 525.9,355.7 526.5,354.0 C527.0,352.3 527.5,352.3 527.2,351.2 C526.9,350.2 525.3,348.9 524.7,347.7 C524.1,346.5 523.8,345.1 523.8,343.9 C523.8,342.8 524.0,341.6 524.7,340.7 C525.3,339.8 526.6,338.7 527.7,338.4 C528.8,338.1 530.5,338.5 531.5,338.9 C532.4,339.3 532.4,341.5 533.5,340.9 C534.5,340.3 536.2,337.2 537.8,335.4 C539.3,333.6 541.7,331.3 542.8,330.1 C543.9,329.0 543.6,328.8 544.3,328.4 C545.0,327.9 545.6,327.8 546.8,327.6 C548.0,327.4 550.2,327.3 551.6,327.1 C553.0,326.9 554.3,326.7 555.4,326.4 C556.4,326.0 557.4,325.3 557.9,325.1" stroke-width="1.5"/>
<path d="M530.2,355.3 C531.2,352.1 533.4,348.1 535.3,345.2 C537.1,342.3 539.2,339.9 541.5,337.9 C543.8,335.9 546.8,334.1 549.1,333.4 C551.4,332.6 553.6,332.7 555.4,333.4 C557.1,334.1 558.8,335.9 559.7,337.7 C560.7,339.4 561.0,341.6 561.1,343.9 C561.2,346.2 561.1,348.8 560.4,351.5 C559.6,354.2 558.3,357.8 556.6,360.3 C554.9,362.8 552.8,364.7 550.3,366.6 C547.8,368.4 543.8,370.4 541.5,371.6 C539.2,372.7 538.1,373.7 536.5,373.5 C534.9,373.3 532.9,371.9 531.7,370.3 C530.6,368.8 529.8,366.6 529.6,364.0 C529.3,361.5 529.3,358.4 530.2,355.3 Z" stroke-width="1.5"/>
<ellipse cx="566.0" cy="332.6" rx="2.76" ry="4.52" transform="rotate(25 566.0 332.6)" />
<ellipse cx="565.4" cy="342.7" rx="1.26" ry="2.51" transform="rotate(10 565.4 342.7)" />
<ellipse cx="524.6" cy="373.3" rx="3.02" ry="4.77" transform="rotate(25 524.6 373.3)" />
<ellipse cx="563.5" cy="322.0" rx="0.75" ry="0.75" transform="rotate(0 563.5 322.0)" fill="#000"/>
<ellipse cx="528.3" cy="343.3" rx="0.75" ry="0.75" transform="rotate(0 528.3 343.3)" fill="#000"/>
<ellipse cx="568.5" cy="358.8" rx="0.75" ry="0.75" transform="rotate(0 568.5 358.8)" fill="#000"/>
</g>
</g>
<g id="p976">
<g class="l" transform="translate(480,420) scale(0.12563)">
<path d="M235,132 L320,76 Q400,62 455,112 Q525,185 546,290 Q552,375 505,418 L440,458 Q400,470 360,456"/>
<path d="M320,76 Q400,62 455,112 Q510,170 535,250" stroke-width="1.8"/>
<ellipse cx="340" cy="296" rx="98" ry="168" transform="rotate(-28 340 296)"/>
<ellipse cx="348" cy="290" rx="82" ry="145" transform="rotate(-28 348 290)"/>
<path d="M292,160 Q272,250 330,345 Q375,400 440,410" class="t"/>
<path d="M240,135 Q200,150 188,205 Q182,260 192,300 L232,286" stroke-width="1.9"/>
<path d="M205,160 Q198,220 205,292" class="t"/>
<path d="M445,262 L470,270 L468,300 L530,275 L545,300 M468,300 V420 L540,385 M445,262 V440 M480,320 L530,298 V365 L480,390 Z"/>
</g>
<g class="l" transform="translate(410,450) scale(0.12563)">
<path d="M310,255 Q240,290 228,372 Q235,450 300,500 Q360,532 435,490 L650,380 M310,255 L510,140"/>
<path d="M310,255 Q400,290 440,390 Q456,450 435,490"/>
<path d="M330,258 Q412,300 430,400 Q440,450 428,480" class="t" stroke-dasharray="6 3"/>
<path d="M505,128 Q520,90 572,90 Q650,110 702,220 Q742,322 712,370 Q690,392 650,380"/>
<path d="M510,140 Q560,120 622,182 Q682,262 672,342 Q666,372 650,380"/>
<ellipse cx="276" cy="428" rx="27" ry="38" transform="rotate(-20 276 428)"/>
<circle cx="268" cy="424" r="4" fill="#000" stroke="none"/>
</g>
</g>
<g id="labels">
<g class="lab">
<text x="6.7" y="57.75" textLength="23.8" lengthAdjust="spacingAndGlyphs">425</text>
<text x="1.4" y="321.75" textLength="23.8" lengthAdjust="spacingAndGlyphs">968</text>
<text x="170" y="406.2" textLength="23.8" lengthAdjust="spacingAndGlyphs">445</text>
<text x="316.9" y="379.2" textLength="23.8" lengthAdjust="spacingAndGlyphs">443</text>
<text x="384.4" y="17.8" textLength="23.8" lengthAdjust="spacingAndGlyphs">966</text>
<text x="643.3" y="288.75" textLength="23.8" lengthAdjust="spacingAndGlyphs">529</text>
<text x="489.6" y="391.9" textLength="23.8" lengthAdjust="spacingAndGlyphs">163</text>
<text x="421" y="437.7" textLength="23.8" lengthAdjust="spacingAndGlyphs">976</text>
<text x="250" y="567.4" textLength="299.3" lengthAdjust="spacingAndGlyphs">Assemblies include all parts shown in frames</text>
</g>
</g>
</svg>
</body></html>
